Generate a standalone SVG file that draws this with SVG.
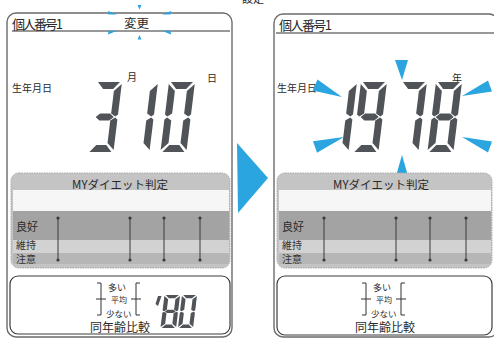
<svg xmlns="http://www.w3.org/2000/svg" width="494" height="340" viewBox="0 0 494 340">
<style>
text{font-family:"Noto Sans CJK JP","Noto Sans",sans-serif;fill:#2a2a2a}
.frame{fill:#fff;stroke:#6b6b6b;stroke-width:1.4}
.hl{stroke:#333;stroke-width:1.2}
.seg{fill:#505458}
.blue{fill:#2aa5e0}
.gp{fill:#c4c4c4;stroke:#a9a9a9;stroke-width:1;stroke-dasharray:1.5 1}
.wb{fill:#f6f6f6}
.db{fill:#a3a3a3}
.lb{fill:#d2d2d2}
.mb{fill:#b6b6b6}
.vl{stroke:#3a3a3a;stroke-width:1}
.dot{fill:#3a3a3a}
.box{fill:#fff;stroke:#3c3c3c;stroke-width:1.2}
.br{stroke:#333;stroke-width:1;fill:none}
.lab{font-size:10px;fill:#333}
</style>
<defs>
<polygon id="sa" points="2,0 24,0 18,7 8,7"/>
<polygon id="sb" points="26,2 26,32.5 23.5,34.5 19,31.5 19,9"/>
<polygon id="sc" points="19,38.5 23.5,35.5 26,37.5 26,68 19,61"/>
<polygon id="sd" points="8,63 18,63 24,70 2,70"/>
<polygon id="se" points="0,37.5 2.5,35.5 7,38.5 7,61 0,68"/>
<polygon id="sf" points="0,2 7,9 7,31.5 2.5,34.5 0,32.5"/>
<polygon id="sg" points="4,35 8,31.5 18,31.5 22,35 18,38.5 8,38.5"/>
<g id="n0"><use href="#sa"/><use href="#sb"/><use href="#sc"/><use href="#sd"/><use href="#se"/><use href="#sf"/></g>
<g id="n1"><use href="#sb"/><use href="#sc"/></g>
<g id="n3"><use href="#sa"/><use href="#sb"/><use href="#sc"/><use href="#sd"/><use href="#sg"/></g>
<g id="n7"><use href="#sa"/><use href="#sb"/><use href="#sc"/></g>
<g id="n8"><use href="#sa"/><use href="#sb"/><use href="#sc"/><use href="#sd"/><use href="#se"/><use href="#sf"/><use href="#sg"/></g>
<g id="n9"><use href="#sa"/><use href="#sb"/><use href="#sc"/><use href="#sd"/><use href="#sf"/><use href="#sg"/></g>
</defs>
<rect width="494" height="340" fill="#fff"/>
<text x="242" y="3" font-size="11" fill="#555">設定</text>

<g id="panel-left">
<rect class="frame" x="7" y="13" width="225" height="324" rx="9"/>
<line class="hl" x1="12" y1="31" x2="230" y2="31"/>
<text x="12" y="29" font-size="13" textLength="51">個人番号1</text>
<text x="124" y="28" font-size="12.5">変更</text>
<g class="blue">
<polygon points="137.5,5 141.5,5 139.5,9.5"/>
<polygon points="137.5,39.5 141.5,39.5 139.5,35"/>
<polygon points="108,11 108.5,14.5 117,14.5"/>
<polygon points="108,34.5 108.5,31 117,30.8"/>
<polygon points="171,11 170.5,14.5 162,14.5"/>
<polygon points="171,34.5 170.5,31 162,30.8"/>
</g>
<text x="12" y="92" font-size="10">生年月日</text>
<text x="127" y="81" font-size="10">月</text>
<text x="207" y="82" font-size="10">日</text>
<g class="seg">
<use href="#n3" transform="translate(96,82) skewX(-7)"/>
<use href="#n1" transform="translate(132,82) skewX(-7)"/>
<use href="#n0" transform="translate(169,82) skewX(-7)"/>
</g>
<rect class="gp" x="11" y="173" width="219" height="95" rx="8"/>
<text x="120" y="189" font-size="11.5" text-anchor="middle" fill="#333">MYダイエット判定</text>
<rect class="wb" x="13" y="190" width="216" height="21"/>
<rect class="db" x="13" y="211" width="216" height="29"/>
<rect class="lb" x="13" y="240" width="216" height="13"/>
<rect class="mb" x="13" y="253" width="216" height="11" rx="2"/>
<text x="16" y="231" font-size="11" fill="#333">良好</text>
<text class="lab" x="16" y="249">維持</text>
<text class="lab" x="16" y="263">注意</text>
<g>
<line class="vl" x1="58" y1="218" x2="58" y2="260"/><circle class="dot" cx="58" cy="218" r="1.6"/><circle class="dot" cx="58" cy="260" r="1.6"/>
<line class="vl" x1="130" y1="218" x2="130" y2="260"/><circle class="dot" cx="130" cy="218" r="1.6"/><circle class="dot" cx="130" cy="260" r="1.6"/>
<line class="vl" x1="164" y1="218" x2="164" y2="260"/><circle class="dot" cx="164" cy="218" r="1.6"/><circle class="dot" cx="164" cy="260" r="1.6"/>
<line class="vl" x1="200" y1="218" x2="200" y2="260"/><circle class="dot" cx="200" cy="218" r="1.6"/><circle class="dot" cx="200" cy="260" r="1.6"/>
</g>
<rect class="box" x="10" y="276" width="220" height="58" rx="8"/>
<path class="br" d="M97,283H101V315H97M96,299H106"/>
<path class="br" d="M140,283H136V315H140M131,299H141"/>
<text x="108" y="291" font-size="9">多い</text>
<text x="111" y="303" font-size="8">平均</text>
<text x="106" y="317" font-size="8.5">少ない</text>
<text x="90" y="332" font-size="12">同年齢比較</text>
<g class="seg">
<polygon points="158,296 161.5,296 158,306 155.5,304"/>
<use href="#n8" transform="translate(164.5,295) skewX(-7) scale(0.6,0.47)"/>
<use href="#n0" transform="translate(182,295) skewX(-7) scale(0.58,0.47)"/>
</g>
</g>

<g id="arrow">
<polygon class="blue" points="237,143 268,178 238,213"/>
</g>

<g id="panel-right">
<rect class="frame" x="274" y="14" width="224" height="323" rx="9"/>
<line class="hl" x1="276" y1="33" x2="494" y2="33"/>
<text x="279" y="30" font-size="13" textLength="53">個人番号1</text>
<text x="277" y="92" font-size="10">生年月日</text>
<text x="452" y="82" font-size="10">年</text>
<g class="seg">
<use href="#n1" transform="translate(331,82) skewX(-7)"/>
<use href="#n9" transform="translate(361,82) skewX(-7)"/>
<use href="#n7" transform="translate(401,82) skewX(-7)"/>
<use href="#n8" transform="translate(436,82) skewX(-7)"/>
</g>
<g class="blue">
<polygon points="395,60 408,60 402,80"/>
<polygon points="396,176 408,176 402,155"/>
<polygon points="312.5,90.5 317.5,79.5 342,97"/>
<polygon points="317,152.7 313,141.3 344,137"/>
<polygon points="492,91.6 488,80.4 462,96"/>
<polygon points="488,152.6 492,141.4 462,137"/>
</g>
<rect class="gp" x="277" y="173" width="215" height="95" rx="8"/>
<text x="381" y="189" font-size="11.5" text-anchor="middle" fill="#333">MYダイエット判定</text>
<rect class="wb" x="279" y="190" width="212" height="21"/>
<rect class="db" x="279" y="211" width="212" height="29"/>
<rect class="lb" x="279" y="240" width="212" height="13"/>
<rect class="mb" x="279" y="253" width="212" height="11" rx="2"/>
<text x="282" y="231" font-size="11" fill="#333">良好</text>
<text class="lab" x="282" y="249">維持</text>
<text class="lab" x="282" y="263">注意</text>
<g>
<line class="vl" x1="324" y1="218" x2="324" y2="260"/><circle class="dot" cx="324" cy="218" r="1.6"/><circle class="dot" cx="324" cy="260" r="1.6"/>
<line class="vl" x1="396" y1="218" x2="396" y2="260"/><circle class="dot" cx="396" cy="218" r="1.6"/><circle class="dot" cx="396" cy="260" r="1.6"/>
<line class="vl" x1="430" y1="218" x2="430" y2="260"/><circle class="dot" cx="430" cy="218" r="1.6"/><circle class="dot" cx="430" cy="260" r="1.6"/>
<line class="vl" x1="466" y1="218" x2="466" y2="260"/><circle class="dot" cx="466" cy="218" r="1.6"/><circle class="dot" cx="466" cy="260" r="1.6"/>
</g>
<rect class="box" x="277" y="276" width="215" height="59" rx="8"/>
<path class="br" d="M362,283H366V315H362M361,299H371"/>
<path class="br" d="M405,283H401V315H405M396,299H406"/>
<text x="373" y="291" font-size="9">多い</text>
<text x="376" y="303" font-size="8">平均</text>
<text x="371" y="317" font-size="8.5">少ない</text>
<text x="355" y="332" font-size="12">同年齢比較</text>
</g>
</svg>
